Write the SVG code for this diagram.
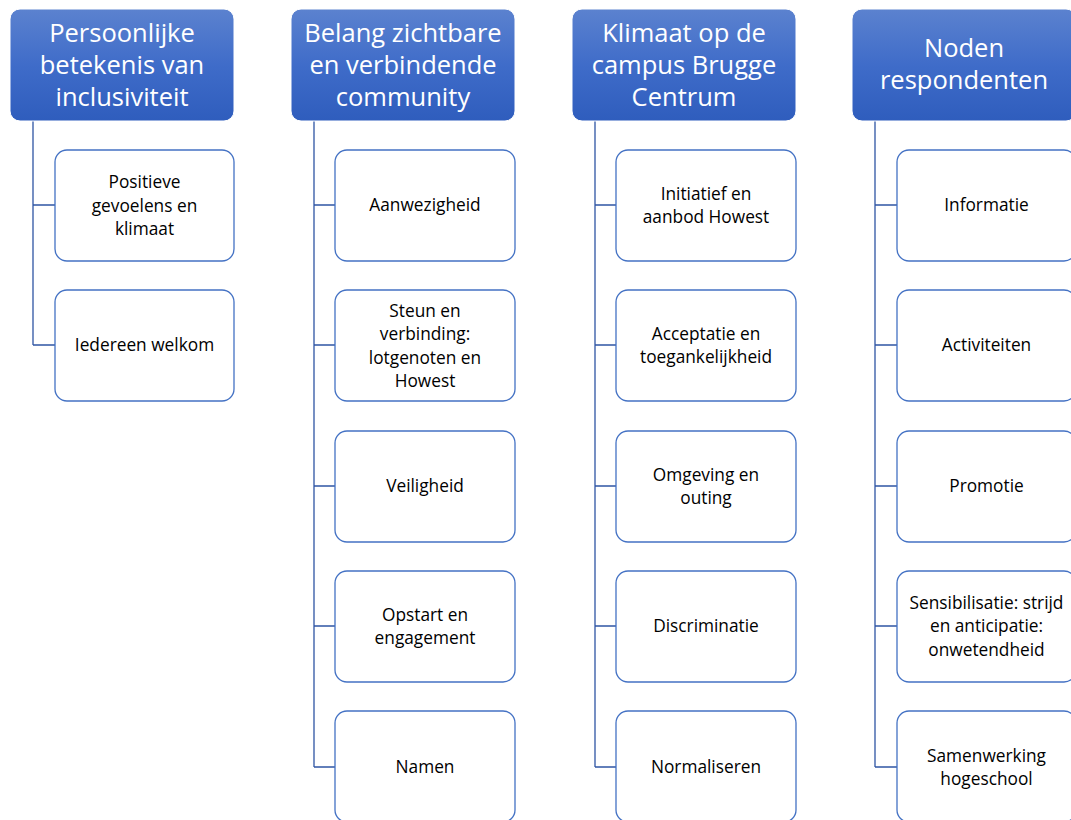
<svg xmlns="http://www.w3.org/2000/svg" width="1071" height="820" viewBox="0 0 1071 820">
<defs>
<linearGradient id="hg" x1="0" y1="0" x2="0" y2="1">
<stop offset="0" stop-color="#5b82cf"/>
<stop offset="0.5" stop-color="#3f6cc9"/>
<stop offset="1" stop-color="#2f5dbd"/>
</linearGradient>
</defs>
<style>
.h rect{fill:url(#hg);stroke:#ffffff;stroke-width:1}
.h text{fill:#ffffff;font-family:"Open Sans","Noto Sans",sans-serif;font-size:25.5px;text-anchor:middle}
.c rect{fill:#ffffff;stroke:#4472c4;stroke-width:1.3}
.c text{fill:#000000;font-family:"Open Sans","Noto Sans",sans-serif;font-size:17.3px;text-anchor:middle}
.ln path{fill:none;stroke:#2f55a4;stroke-width:1.3}
</style>
<rect width="1071" height="820" fill="#ffffff"/>
<g class="ln" id="connectors">
<path d="M33 121V345M33 205H55M33 345H55"/>
<path d="M314 121V767M314 205H335M314 345H335M314 486H335M314 626H335M314 767H335"/>
<path d="M595 121V767M595 205H616M595 345H616M595 486H616M595 626H616M595 767H616"/>
<path d="M875 121V767M875 205H897M875 345H897M875 486H897M875 626H897M875 767H897"/>
</g>
<g class="h" id="h1"><rect x="10" y="9" width="224" height="112" rx="10"/><text x="122" y="42">Persoonlijke</text><text x="122" y="74">betekenis van</text><text x="122" y="106">inclusiviteit</text></g>
<g class="h" id="h2"><rect x="291" y="9" width="224" height="112" rx="10"/><text x="403" y="42">Belang zichtbare</text><text x="403" y="74">en verbindende</text><text x="403" y="106">community</text></g>
<g class="h" id="h3"><rect x="572" y="9" width="224" height="112" rx="10"/><text x="684" y="42">Klimaat op de</text><text x="684" y="74">campus Brugge</text><text x="684" y="106">Centrum</text></g>
<g class="h" id="h4"><rect x="852" y="9" width="224" height="112" rx="10"/><text x="964" y="57">Noden</text><text x="964" y="89">respondenten</text></g>

<g class="c" id="c1a"><rect x="55" y="150" width="179" height="111" rx="12"/><text x="144.5" y="188">Positieve</text><text x="144.5" y="211.5">gevoelens en</text><text x="144.5" y="235">klimaat</text></g>
<g class="c" id="c1b"><rect x="55" y="290" width="179" height="111" rx="12"/><text x="144.5" y="351">Iedereen welkom</text></g>

<g class="c" id="c2a"><rect x="335" y="150" width="180" height="111" rx="12"/><text x="425" y="211">Aanwezigheid</text></g>
<g class="c" id="c2b"><rect x="335" y="290" width="180" height="111" rx="12"/><text x="425" y="316.5">Steun en</text><text x="425" y="340">verbinding:</text><text x="425" y="363.5">lotgenoten en</text><text x="425" y="387">Howest</text></g>
<g class="c" id="c2c"><rect x="335" y="431" width="180" height="111" rx="12"/><text x="425" y="492">Veiligheid</text></g>
<g class="c" id="c2d"><rect x="335" y="571" width="180" height="111" rx="12"/><text x="425" y="620.5">Opstart en</text><text x="425" y="644">engagement</text></g>
<g class="c" id="c2e"><rect x="335" y="711" width="180" height="111" rx="12"/><text x="425" y="773">Namen</text></g>

<g class="c" id="c3a"><rect x="616" y="150" width="180" height="111" rx="12"/><text x="706" y="199.5">Initiatief en</text><text x="706" y="223">aanbod Howest</text></g>
<g class="c" id="c3b"><rect x="616" y="290" width="180" height="111" rx="12"/><text x="706" y="339.5">Acceptatie en</text><text x="706" y="363">toegankelijkheid</text></g>
<g class="c" id="c3c"><rect x="616" y="431" width="180" height="111" rx="12"/><text x="706" y="480.5">Omgeving en</text><text x="706" y="504">outing</text></g>
<g class="c" id="c3d"><rect x="616" y="571" width="180" height="111" rx="12"/><text x="706" y="632">Discriminatie</text></g>
<g class="c" id="c3e"><rect x="616" y="711" width="180" height="111" rx="12"/><text x="706" y="773">Normaliseren</text></g>

<g class="c" id="c4a"><rect x="897" y="150" width="179" height="111" rx="12"/><text x="986.5" y="211">Informatie</text></g>
<g class="c" id="c4b"><rect x="897" y="290" width="179" height="111" rx="12"/><text x="986.5" y="351">Activiteiten</text></g>
<g class="c" id="c4c"><rect x="897" y="431" width="179" height="111" rx="12"/><text x="986.5" y="492">Promotie</text></g>
<g class="c" id="c4d"><rect x="897" y="571" width="179" height="111" rx="12"/><text x="986.5" y="608.5">Sensibilisatie: strijd</text><text x="986.5" y="632">en anticipatie:</text><text x="986.5" y="655.5">onwetendheid</text></g>
<g class="c" id="c4e"><rect x="897" y="711" width="179" height="111" rx="12"/><text x="986.5" y="761.5">Samenwerking</text><text x="986.5" y="785">hogeschool</text></g>
</svg>
